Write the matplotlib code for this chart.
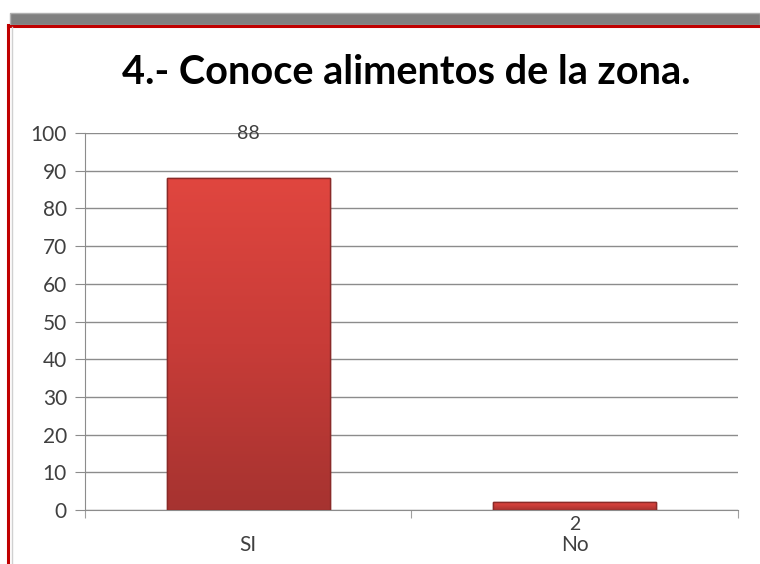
import matplotlib
matplotlib.use("Agg")
import matplotlib.pyplot as plt
import numpy as np
from matplotlib.patches import Rectangle
from matplotlib.colors import LinearSegmentedColormap

categories = ["SI", "No"]
values = [88, 2]
title = "4.- Conoce alimentos de la zona."
yticks = [0, 10, 20, 30, 40, 50, 60, 70, 80, 90, 100]

W, H = 760, 564
fig = plt.figure(figsize=(W / 100, H / 100), dpi=100)
fig.patch.set_facecolor("white")

def fx(px):
    return px / W

def fy(py):
    return 1 - py / H

# top gray bar
fig.patches.append(Rectangle((fx(10), fy(25)), fx(760 - 10), 12 / H, transform=fig.transFigure,
                             facecolor="#808080", edgecolor="#b0b0b0", lw=1, zorder=0))
# red frame (left + top)
fig.add_artist(plt.Line2D([fx(8), fx(8)], [0, fy(25)], transform=fig.transFigure, color="#c00000", lw=2.2))
fig.add_artist(plt.Line2D([fx(8), 1], [fy(25.5), fy(25.5)], transform=fig.transFigure, color="#c00000", lw=2.2))
fig.add_artist(plt.Line2D([fx(11.5), fx(11.5)], [0, fy(27)], transform=fig.transFigure, color="#d0d0d0", lw=1))

ax = fig.add_axes([fx(85), fy(510), fx(738 - 85), (510 - 133) / H])
x = np.arange(len(categories))
ax.set_xlim(-0.5, len(categories) - 0.5)
ax.set_ylim(0, 100)

cmap = LinearSegmentedColormap.from_list("r", ["#a63330", "#c83c38", "#e0463f"])
bars = ax.bar(x, values, width=0.5, color="#d0403b", edgecolor="#8a2a28", lw=1, zorder=3)
for b in bars:
    bx, by = b.get_x(), b.get_y()
    bw, bh = b.get_width(), b.get_height()
    grad = np.linspace(0, 1, 256).reshape(-1, 1)
    im = ax.imshow(grad, extent=(bx, bx + bw, by, by + bh), origin="lower", aspect="auto",
                   cmap=cmap, zorder=3.5)
    im.set_clip_path(b)
    ax.add_patch(Rectangle((bx, by), bw, bh, fill=False, edgecolor="#8a2a28", lw=1, zorder=4))

offsets = [32, -16]
for xi, v, off in zip(x, values, offsets):
    ax.annotate(str(v), (xi, v), xytext=(0, off), textcoords="offset points", ha="center",
                va="center", fontsize=14, color="#404040", family="Lato", zorder=5)

ax.set_yticks(yticks)
ax.set_yticklabels([str(t) for t in yticks], fontsize=15, color="#404040", family="Lato")
ax.yaxis.grid(True, color="#8c8c8c", lw=1, zorder=0)
ax.set_axisbelow(True)
ax.tick_params(axis="y", length=7, color="#8c8c8c", pad=6)
ax.set_xticks([-0.5, 0.5, 1.5])
ax.set_xticklabels([])
ax.tick_params(axis="x", length=6, color="#a0a0a0")
ax.set_xticks(x, minor=True)
ax.set_xticklabels(categories, minor=True, fontsize=15, color="#404040", family="Lato")
ax.tick_params(axis="x", which="minor", length=0, pad=18)
for s in ["top", "right"]:
    ax.spines[s].set_visible(False)
ax.spines["left"].set_color("#8c8c8c")
ax.spines["bottom"].set_color("#8c8c8c")
ax.set_facecolor("white")

fig.text(fx(406), fy(72), title, ha="center", va="center", fontsize=28.5, fontweight="bold",
         family="Lato", color="black")

fig.savefig("out.png", dpi=100)
